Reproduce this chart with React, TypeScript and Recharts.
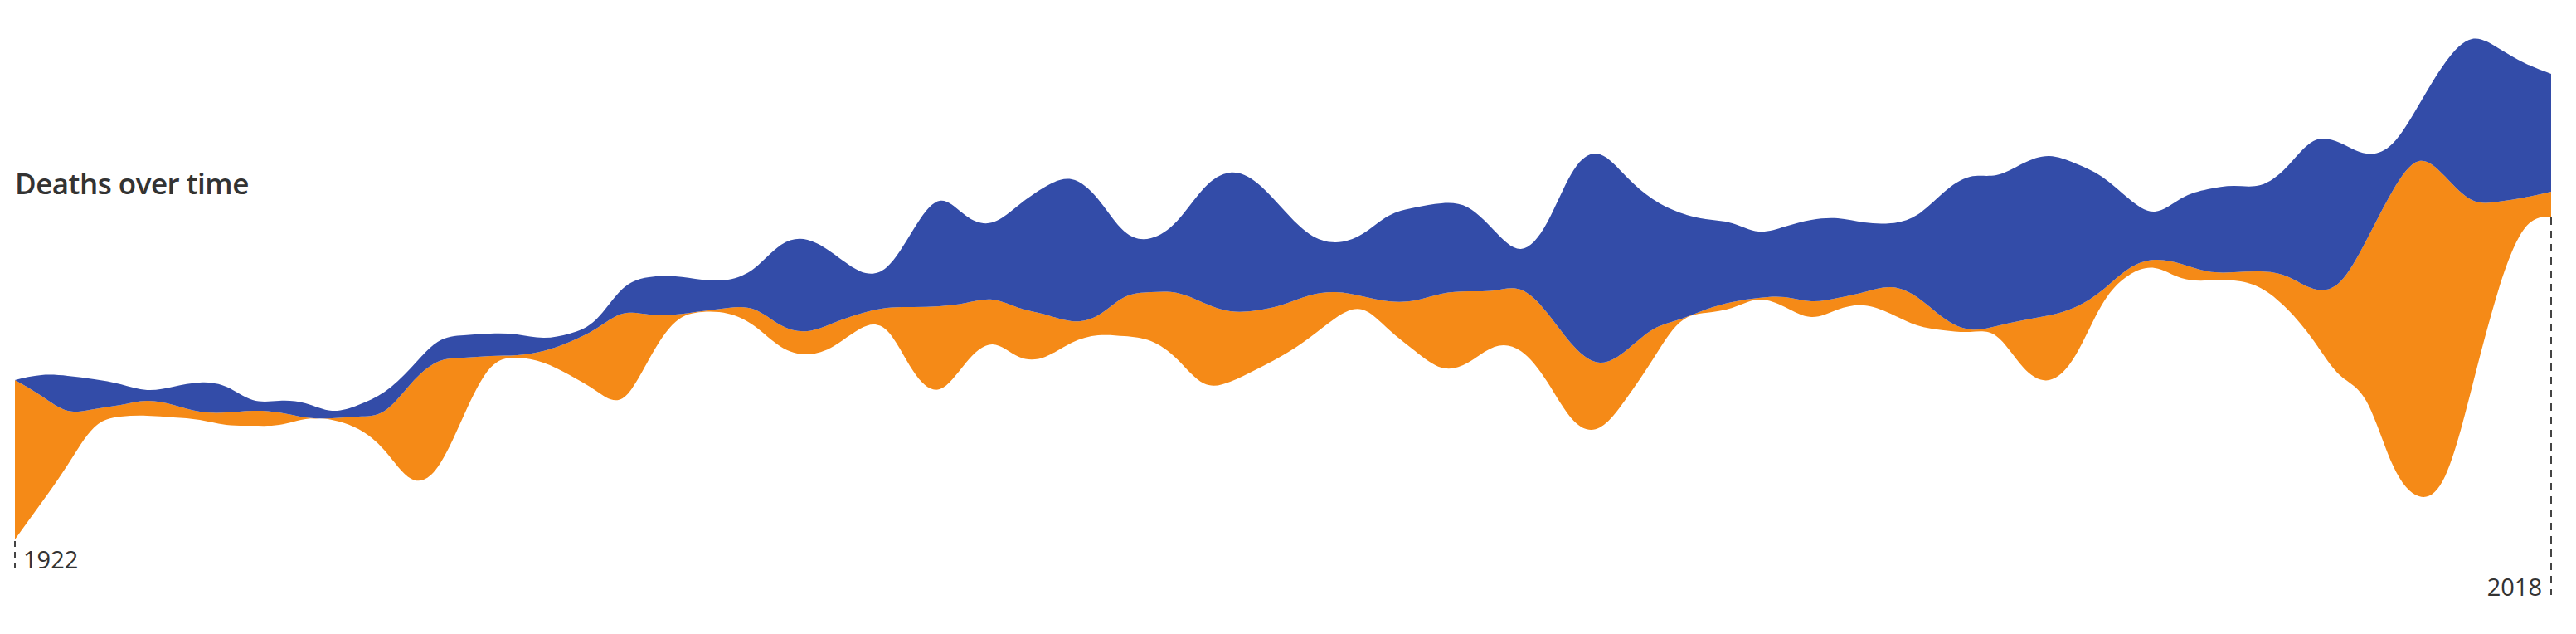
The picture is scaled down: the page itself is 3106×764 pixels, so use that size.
import { AreaChart, Area, XAxis, YAxis, ReferenceLine } from "recharts";

const FIRST_YEAR = 1922;
const LAST_YEAR = 2018;

// invisible offset under the stream (wiggle baseline)
const baseline = [
  114, 158, 204, 249, 262, 263, 261, 258, 252, 251, 252, 259, 258, 247, 221, 187,
  201, 264, 321, 333, 327, 312, 293, 284, 331, 376, 388, 386, 371, 346, 337, 347,
  368, 366, 317, 295, 327, 349, 334, 334, 351, 360, 359, 353, 331, 302, 304, 319,
  336, 357, 381, 391, 367, 341, 321, 327, 346, 341, 304, 257, 249, 284, 331, 375,
  387, 393, 403, 394, 382, 391, 396, 386, 372, 366, 364, 359, 322, 306, 336, 397,
  432, 441, 429, 426, 426, 417, 392, 354, 312, 281, 204, 166, 191, 297, 414, 489,
  503,
];

// orange band thickness
const orangeDeaths = [
  192, 129, 65, 22, 14, 18, 15, 10, 15, 18, 15, 2, 2, 15, 48, 115,
  127, 69, 14, 3, 14, 40, 75, 102, 54, 9, 1, 7, 20, 26, 28, 28,
  18, 27, 77, 100, 72, 54, 59, 51, 26, 24, 47, 59, 80, 97, 85, 71,
  61, 51, 31, 16, 34, 61, 89, 86, 68, 74, 83, 90, 78, 58, 36, 4,
  4, 7, 2, 12, 19, 14, 16, 32, 34, 15, 3, 12, 56, 78, 58, 17,
  8, 10, 17, 11, 10, 20, 39, 62, 112, 193, 330, 404, 360, 226, 107, 37,
  30,
];

// blue band thickness
const blueDeaths = [
  0, 25, 42, 36, 25, 13, 22, 35, 31, 13, 14, 17, 9, 14, 23, 19,
  24, 27, 27, 25, 16, 10, 11, 30, 45, 46, 38, 34, 50, 97, 110, 83,
  51, 49, 93, 127, 105, 93, 124, 154, 171, 140, 79, 65, 87, 138, 167, 154,
  115, 74, 60, 75, 103, 112, 109, 101, 72, 49, 109, 212, 251, 209, 157, 129,
  109, 95, 80, 85, 98, 96, 84, 77, 99, 151, 184, 182, 189, 192, 173, 137,
  85, 58, 79, 99, 104, 104, 132, 178, 168, 105, 57, 68, 138, 194, 185, 162,
  142,
];

const data = baseline.map((b, i) => ({
  year: FIRST_YEAR + i,
  base: b,
  orange: orangeDeaths[i],
  blue: blueDeaths[i],
}));

const W = 3106;
const H = 764;
const TEXT = "#333333";

function YearLabel(props: any) {
  const { viewBox, text, side } = props;
  const vb = viewBox || {};
  const x = vb.x ?? 0;
  const bottom = (vb.y ?? 0) + (vb.height ?? 0);
  return (
    <text
      x={side === "right" ? x + 10 : x - 11}
      y={bottom + 1}
      textAnchor={side === "right" ? "start" : "end"}
      fontFamily="'Open Sans', sans-serif"
      fontSize={29}
      fill={TEXT}
    >
      {text}
    </text>
  );
}

export default function App() {
  return (
    <div style={{ position: "absolute", left: 0, top: 0, width: W, height: H, background: "#fff" }}>
      <div
        style={{
          position: "absolute",
          left: 18,
          top: 203,
          fontFamily: "'Open Sans', sans-serif",
          fontWeight: 600,
          fontSize: 35,
          letterSpacing: -0.5,
          lineHeight: "35px",
          color: TEXT,
          whiteSpace: "nowrap",
        }}
      >
        Deaths over time
      </div>
      <AreaChart width={W} height={H} data={data} margin={{ top: 0, right: 30, bottom: 0, left: 18 }}>
        <XAxis dataKey="year" type="number" domain={[FIRST_YEAR, LAST_YEAR]} hide />
        <YAxis type="number" domain={[0, H]} hide width={0} />
        <Area
          dataKey="base"
          stackId="s"
          type="natural"
          fill="transparent"
          stroke="none"
          activeDot={false}
          isAnimationActive={false}
        />
        <Area
          dataKey="orange"
          stackId="s"
          type="natural"
          fill="#f58a17"
          fillOpacity={1}
          stroke="none"
          activeDot={false}
          isAnimationActive={false}
        />
        <Area
          dataKey="blue"
          stackId="s"
          type="natural"
          fill="#334ca8"
          fillOpacity={1}
          stroke="none"
          activeDot={false}
          isAnimationActive={false}
        />
        <ReferenceLine
          segment={[{ x: FIRST_YEAR, y: 112 }, { x: FIRST_YEAR, y: 80 }]}
          stroke="#444"
          strokeWidth={2}
          strokeDasharray="7 6"
          label={(p: any) => <YearLabel {...p} text={String(FIRST_YEAR)} side="right" />}
        />
        <ReferenceLine
          segment={[{ x: LAST_YEAR, y: 502 }, { x: LAST_YEAR, y: 47 }]}
          stroke="#444"
          strokeWidth={2}
          strokeDasharray="9 7"
          label={(p: any) => <YearLabel {...p} text={String(LAST_YEAR)} side="left" />}
        />
      </AreaChart>
    </div>
  );
}
